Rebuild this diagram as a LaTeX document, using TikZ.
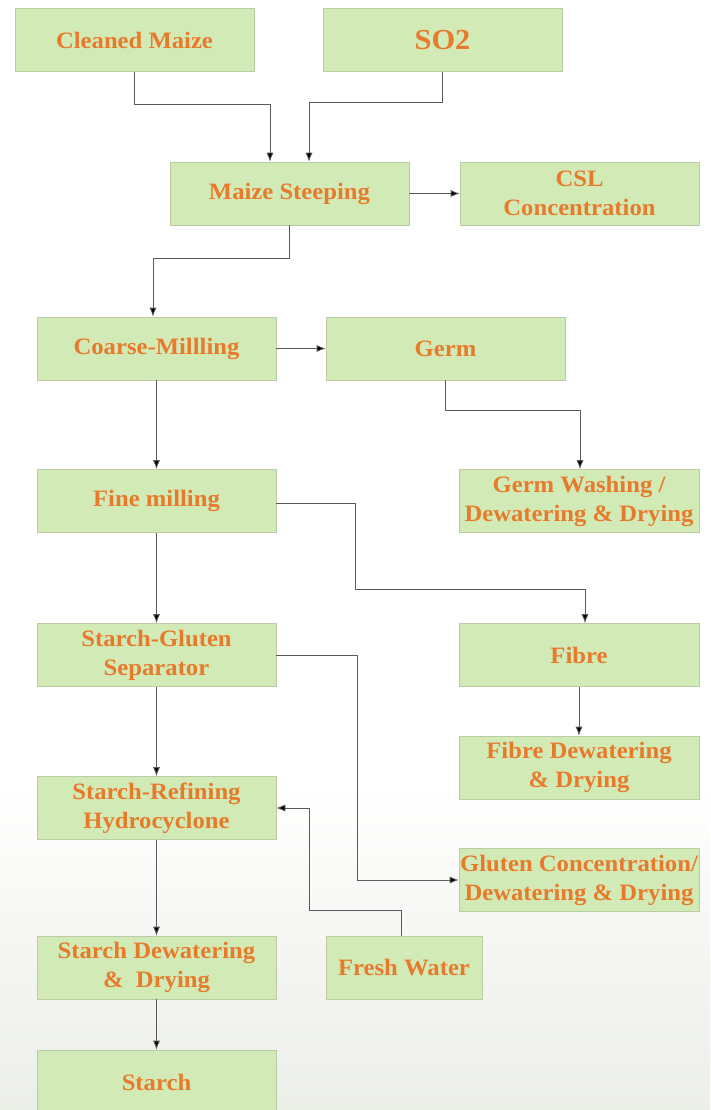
\documentclass[tikz,border=0pt]{standalone}
\usepackage{fontspec}
\setmainfont{Liberation Serif}[FakeStretch=1.05]
\usetikzlibrary{arrows.meta}
\definecolor{boxgreen}{HTML}{D2EBB6}
\definecolor{boxedge}{HTML}{B9CCA6}
\definecolor{txtorange}{HTML}{E87A2C}
\definecolor{linegray}{HTML}{5A5A5A}
\definecolor{bgbottom}{HTML}{ECEEE8}
\tikzset{
  box/.style={rectangle, fill=boxgreen, draw=boxedge, line width=0.6pt,
    minimum width=239pt, minimum height=63pt, inner sep=1pt, align=center,
    text=txtorange, font=\fontsize{23.5}{29}\selectfont\bfseries},
  conn/.style={draw=linegray, line width=0.8pt},
  arr/.style={conn, -{Latex[length=9pt,width=7pt,fill=black]}}
}
\begin{document}
\begin{tikzpicture}[x=1pt,y=-1pt]
\useasboundingbox (0,0) rectangle (710,1110);
\clip (0,0) rectangle (710,1110);
\fill[white] (0,0) rectangle (710,1110);
\shade[top color=white, bottom color=bgbottom] (0,780) rectangle (710,1110);
% boxes
\node[box] (cm)  at (134.5,40)   {Cleaned Maize};
\node[box, font=\fontsize{29}{29}\selectfont\bfseries] (so2) at (442.5,40) {SO2};
\node[box] (ms)  at (289.5,193.5) {Maize Steeping};
\node[box] (csl) at (579.5,193.5) {CSL\\Concentration};
\node[box] (cml) at (156.5,348.5) {Coarse-Millling};
\node[box] (germ) at (445.5,348.5) {Germ};
\node[box, minimum width=240pt] (gw) at (579,501) {Germ Washing /\\Dewatering \& Drying};
\node[box] (fm)  at (156.5,501)   {Fine milling};
\node[box] (sgs) at (156.5,655)   {Starch-Gluten\\Separator};
\node[box, minimum width=240pt] (fib) at (579,655) {Fibre};
\node[box, minimum width=240pt] (fd)  at (579,767.5) {Fibre Dewatering\\\& Drying};
\node[box] (srh) at (156.5,808)   {Starch-Refining\\Hydrocyclone};
\node[box, minimum width=240pt] (glu) at (579,880) {Gluten Concentration/\\Dewatering \& Drying};
\node[box] (sd)  at (156.5,967.5) {Starch Dewatering\\\&\ \ Drying};
\node[box, minimum width=156pt] (fw) at (404,967.5) {Fresh Water};
\node[box, minimum height=64pt] (st) at (156.5,1082) {Starch};
% connectors
\draw[arr] (cm.south) -- ++(0,33) -| ([xshift=-19.5pt]ms.north);
\draw[arr] (so2.south) -- ++(0,31) -| ([xshift=19.5pt]ms.north);
\draw[arr] (ms.east) -- (csl.west);
\draw[arr] (ms.south) -- ++(0,33) -| ([xshift=-3.5pt]cml.north);
\draw[arr] (cml.east) -- (germ.west);
\draw[arr] (cml.south) -- (fm.north);
\draw[arr] (germ.south) -- ++(0,30) -| ([xshift=1pt]gw.north);
\draw[arr] ([yshift=-2pt]fm.east) -- ++(79,0) -- ++(0,86) -| ([xshift=6pt]fib.north);
\draw[arr] (fm.south) -- (sgs.north);
\draw[arr] (sgs.east) -- ++(81,0) |- (glu.west);
\draw[arr] (fib.south) -- (fd.north);
\draw[arr] (sgs.south) -- (srh.north);
\draw[arr] ([xshift=-3pt]fw.north) -- ++(0,-25) -- ++(-92,0) |- (srh.east);
\draw[arr] (srh.south) -- (sd.north);
\draw[arr] (sd.south) -- (st.north);
\end{tikzpicture}
\end{document}
